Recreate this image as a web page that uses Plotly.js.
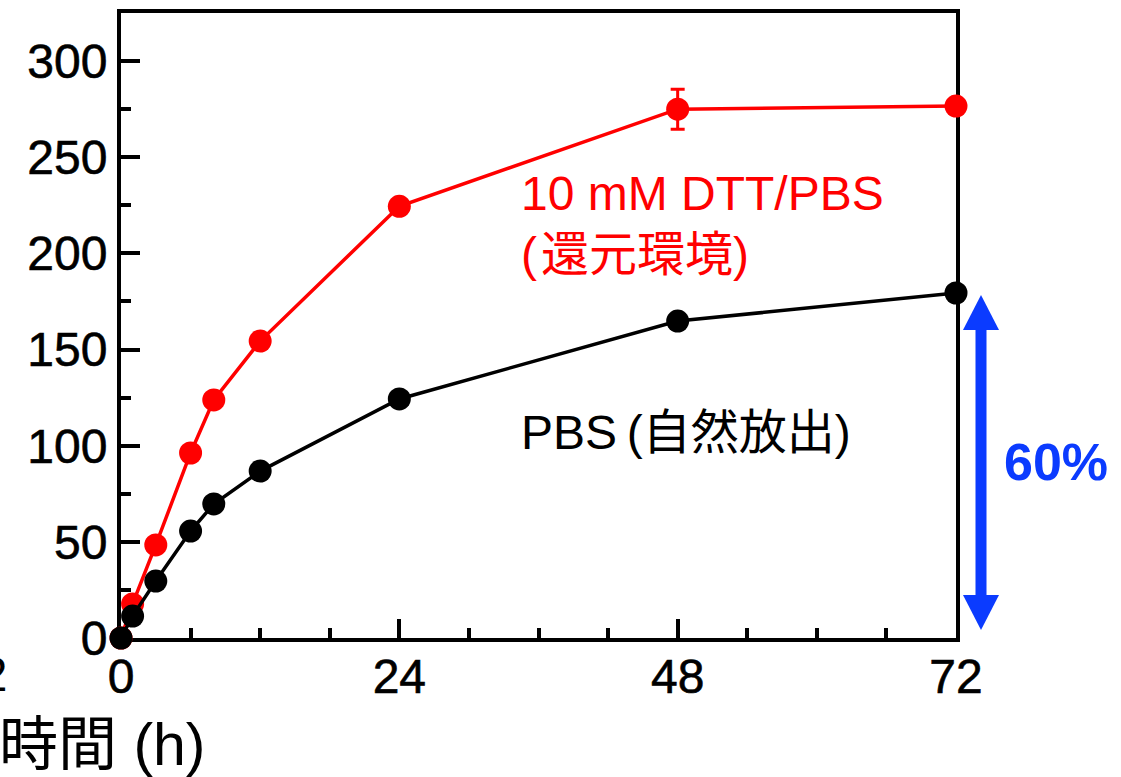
<!DOCTYPE html>
<html>
<head>
<meta charset="utf-8">
<script src="https://cdn.plot.ly/plotly-3.0.1.min.js"></script>
<style>
html,body{margin:0;padding:0;background:#fff;}
.xtick text, .ytick text { stroke:#000; stroke-width:0.6px; }
</style>
</head>
<body>
<div id="chart" style="width:1121px;height:777px;"></div>
<script>
// Data
const timeH = [0, 1, 3, 6, 8, 12, 24, 48, 72];
const dttRelease = [0, 17.7, 48.4, 96.2, 123.8, 154.4, 224.5, 275, 276.6];
const dttError = [0, 0, 0, 0, 0, 0, 0, 10.4, 0];
const pbsRelease = [0, 11.4, 29.6, 55.6, 69.7, 86.8, 124.3, 164.8, 179.4];
const pbsError = [0, 0, 0, 0, 0, 0, 3, 0, 0];
const xTicks = [0, 24, 48, 72];
const yTicks = [0, 50, 100, 150, 200, 250, 300];
const labelDTT1 = "10 mM DTT/PBS";
const labelDTT2 = "(\u200A還元環境)";
const labelPBS = "PBS\u2009(自然放出)";
const labelPct = "60%";
const xTitle = "時間 (h)";

const W = 1121, H = 777;
const M = {l: 121, r: 165, t: 13, b: 139};
const PW = W - M.l - M.r, PH = H - M.t - M.b;
const px = x => (x - M.l) / PW;
const py = y => (H - M.b - y) / PH;

const fontLatin = "Liberation Sans, Arial, Helvetica, sans-serif";
const fontMix = "Liberation Sans, Noto Sans CJK JP, sans-serif";
const blue = "#0b3bff";

const traces = [
  {
    x: timeH, y: dttRelease, type: "scatter", mode: "lines+markers",
    line: {color: "#ff0000", width: 3.5},
    marker: {color: "#ff0000", size: 23},
    error_y: {type: "data", array: dttError, visible: true, color: "#ff0000", thickness: 3, width: 7},
    cliponaxis: false, showlegend: false, hoverinfo: "skip"
  },
  {
    x: timeH, y: pbsRelease, type: "scatter", mode: "lines+markers",
    line: {color: "#000000", width: 3.5},
    marker: {color: "#000000", size: 23},
    error_y: {type: "data", array: pbsError, visible: true, color: "#000000", thickness: 3, width: 7},
    cliponaxis: false, showlegend: false, hoverinfo: "skip"
  }
];

// Blue double arrow (pixel geometry)
const ax = 981, tipTop = 295, tipBot = 630, headH = 35, headW = 36, shaftW = 11;
function tri(tipY, dir) {
  const baseY = tipY + dir * headH;
  return `M ${px(ax)} ${py(tipY)} L ${px(ax - headW/2)} ${py(baseY)} L ${px(ax + headW/2)} ${py(baseY)} Z`;
}
const shapes = [
  {type: "rect", xref: "paper", yref: "paper",
   x0: px(ax - shaftW/2), x1: px(ax + shaftW/2), y0: py(tipTop + headH - 1), y1: py(tipBot - headH + 1),
   fillcolor: blue, line: {width: 0}},
  {type: "path", xref: "paper", yref: "paper", path: tri(tipTop, 1), fillcolor: blue, line: {width: 0}},
  {type: "path", xref: "paper", yref: "paper", path: tri(tipBot, -1), fillcolor: blue, line: {width: 0}}
];

function ann(text, x, y, color, size, family, extra) {
  return Object.assign({
    text: text, xref: "paper", yref: "paper", x: px(x), y: py(y),
    xanchor: "left", yanchor: "middle", showarrow: false,
    font: {color: color, size: size, family: family}
  }, extra || {});
}

const annotations = [
  ann(labelDTT1, 519, 194, "#ff0000", 48, fontLatin),
  ann(labelDTT2, 519, 254, "#ff0000", 48, fontMix),
  ann(labelPBS, 519, 432, "#000000", 48, fontMix),
  ann(labelPct, 1002, 462, blue, 52, fontLatin, {font: {color: blue, size: 52, family: fontLatin, weight: "bold"}}),
  ann(xTitle, -3, 745, "#000000", 59, fontMix),
  ann("72", 9, 674, "#000000", 48, fontLatin, {xanchor: "right"})
];

const axisCommon = {
  showline: true, linecolor: "#000", linewidth: 4, mirror: true,
  ticks: "inside", ticklen: 19, tickwidth: 4, tickcolor: "#000",
  showgrid: false, zeroline: false, layer: "below traces",
  tickfont: {family: fontLatin, size: 48, color: "#000"}
};

const layout = {
  width: W, height: H,
  margin: M,
  paper_bgcolor: "#fff", plot_bgcolor: "#fff",
  showlegend: false,
  xaxis: Object.assign({}, axisCommon, {
    range: [0, 72], tickmode: "array", tickvals: xTicks, ticktext: xTicks.map(String),
    ticklabelstandoff: -7,
    minor: {dtick: 6, ticks: "inside", ticklen: 10, tickwidth: 4, tickcolor: "#000", showgrid: false}
  }),
  yaxis: Object.assign({}, axisCommon, {
    range: [0, 325], tickmode: "array", tickvals: yTicks, ticktext: yTicks.map(String),
    minor: {dtick: 25, ticks: "inside", ticklen: 10, tickwidth: 4, tickcolor: "#000", showgrid: false}
  }),
  shapes: shapes,
  annotations: annotations
};

Plotly.newPlot("chart", traces, layout, {staticPlot: true, displayModeBar: false});
</script>
</body>
</html>
